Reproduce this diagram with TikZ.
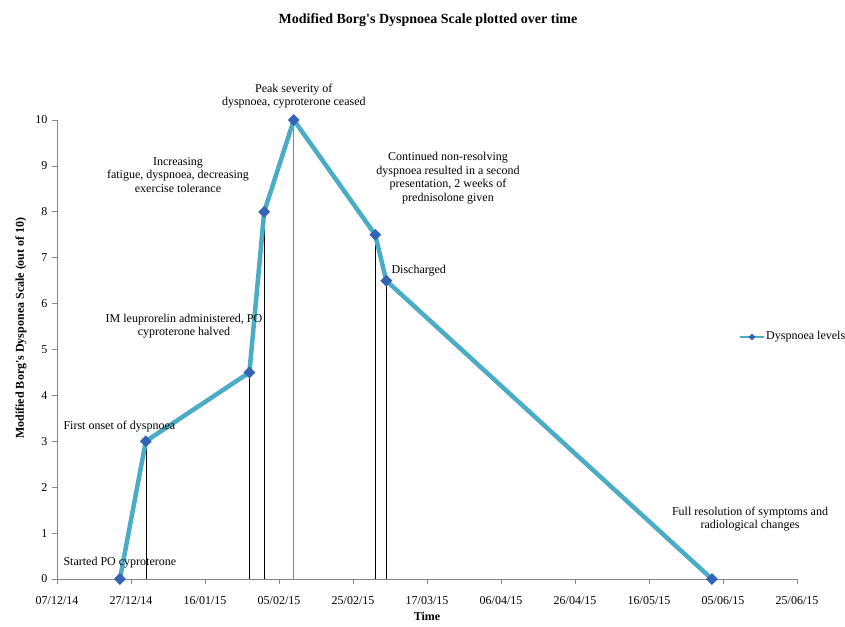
\documentclass[tikz,border=0pt]{standalone}
\usepackage{fontspec}
\setmainfont{Liberation Serif}[Ligatures=TeXOff]
\usetikzlibrary{shapes.geometric,positioning}
\definecolor{seriesc}{RGB}{75,172,198}
\definecolor{markc}{RGB}{52,101,180}
\definecolor{axisc}{RGB}{134,134,134}

\begin{document}
\begin{tikzpicture}[x=1pt, y=-1pt, font=\fontsize{12}{13.5}\selectfont,
        axis/.style={draw=axisc, line width=0.8pt},
        drop/.style={draw=black, line width=0.6pt},
        series/.style={draw=seriesc, line width=4.5pt, line join=round},
        marker/.style={diamond, fill=markc, inner sep=0pt, minimum size=12pt},
        note/.style={align=center},
        heading/.style={font=\fontsize{12}{13.5}\selectfont\bfseries}]
        \useasboundingbox (0,0) rectangle (845,626);
        \node[heading, font=\fontsize{14}{16}\selectfont\bfseries] (title) at (428,20) {Modified Borg's Dyspnoea Scale plotted over time};
        \node[heading, rotate=90] (ylab) at (21,328) {Modified Borg's Dysponea Scale (out of 10)};
        \node[heading, inner sep=1pt] (xlab) at (427,616) {Time};

        \begin{scope}[shift={(57,579)}, x=3.7pt, y=45.9pt]
            \coordinate (o) at (0,0);
            \draw[axis] (0,10) -- (o) -- (200,0);
            \foreach \v in {0,...,10}
                \draw[axis] (0,\v) -- ++(-5pt,0) node[left=1pt] {\v};
            \foreach \d [count=\i from 0] in {07/12/14,27/12/14,16/01/15,05/02/15,25/02/15,17/03/15,06/04/15,26/04/15,16/05/15,05/06/15,25/06/15}
                \draw[axis] (\i*20,0) -- ++(0,-5pt) node[below=9pt] {\d};

            \coordinate (p1) at (17,0);
            \coordinate (p2) at (24,3);
            \coordinate (p3) at (52,4.5);
            \coordinate (p4) at (56,8);
            \coordinate (p5) at (64,10);
            \coordinate (p6) at (86,7.5);
            \coordinate (p7) at (89,6.5);
            \coordinate (p8) at (177,0);

            \foreach \i in {2,3,4,6,7}
                \draw[drop] (p\i) -- (p\i |- o);
            \draw[drop, draw=axisc, line width=1pt] (p5) -- (p5 |- o);
            \draw[series] (p1) \foreach \i in {2,...,8} {-- (p\i)};
            \foreach \i in {1,...,8}
                \node[marker] (m\i) at (p\i) {};
        \end{scope}

        \node[note] (peak) [above=2pt of m5] {Peak severity of\\dyspnoea, cyproterone ceased};
        \node[note] (incr) at (178,175) {Increasing\\fatigue, dyspnoea, decreasing\\exercise tolerance};
        \node[note] (leup) at (184,326) {IM leuprorelin administered, PO\\cyproterone halved};
        \node[anchor=west] (first) at (60,427) {First onset of dyspnoea};
        \node[anchor=west] (start) at (60,563) {Started PO cyproterone};
        \node[note] (cont) at (448,178) {Continued non-resolving\\dyspnoea resulted in a second\\presentation, 2 weeks of\\prednisolone given};
        \node[anchor=west] (disch) at (388,271) {Discharged};
        \node[note] (full) at (750,519) {Full resolution of symptoms and\\radiological changes};

        \coordinate (lg1) at (740,337);
        \coordinate (lg2) at (764,337);
        \draw[series, line width=2.5pt] (lg1) -- (lg2);
        \node[marker, minimum size=7pt] (lgm) at (752,337) {};
        \node[anchor=west, inner sep=2pt] (lgtext) at (lg2) {Dyspnoea levels};
\end{tikzpicture}
\end{document}
